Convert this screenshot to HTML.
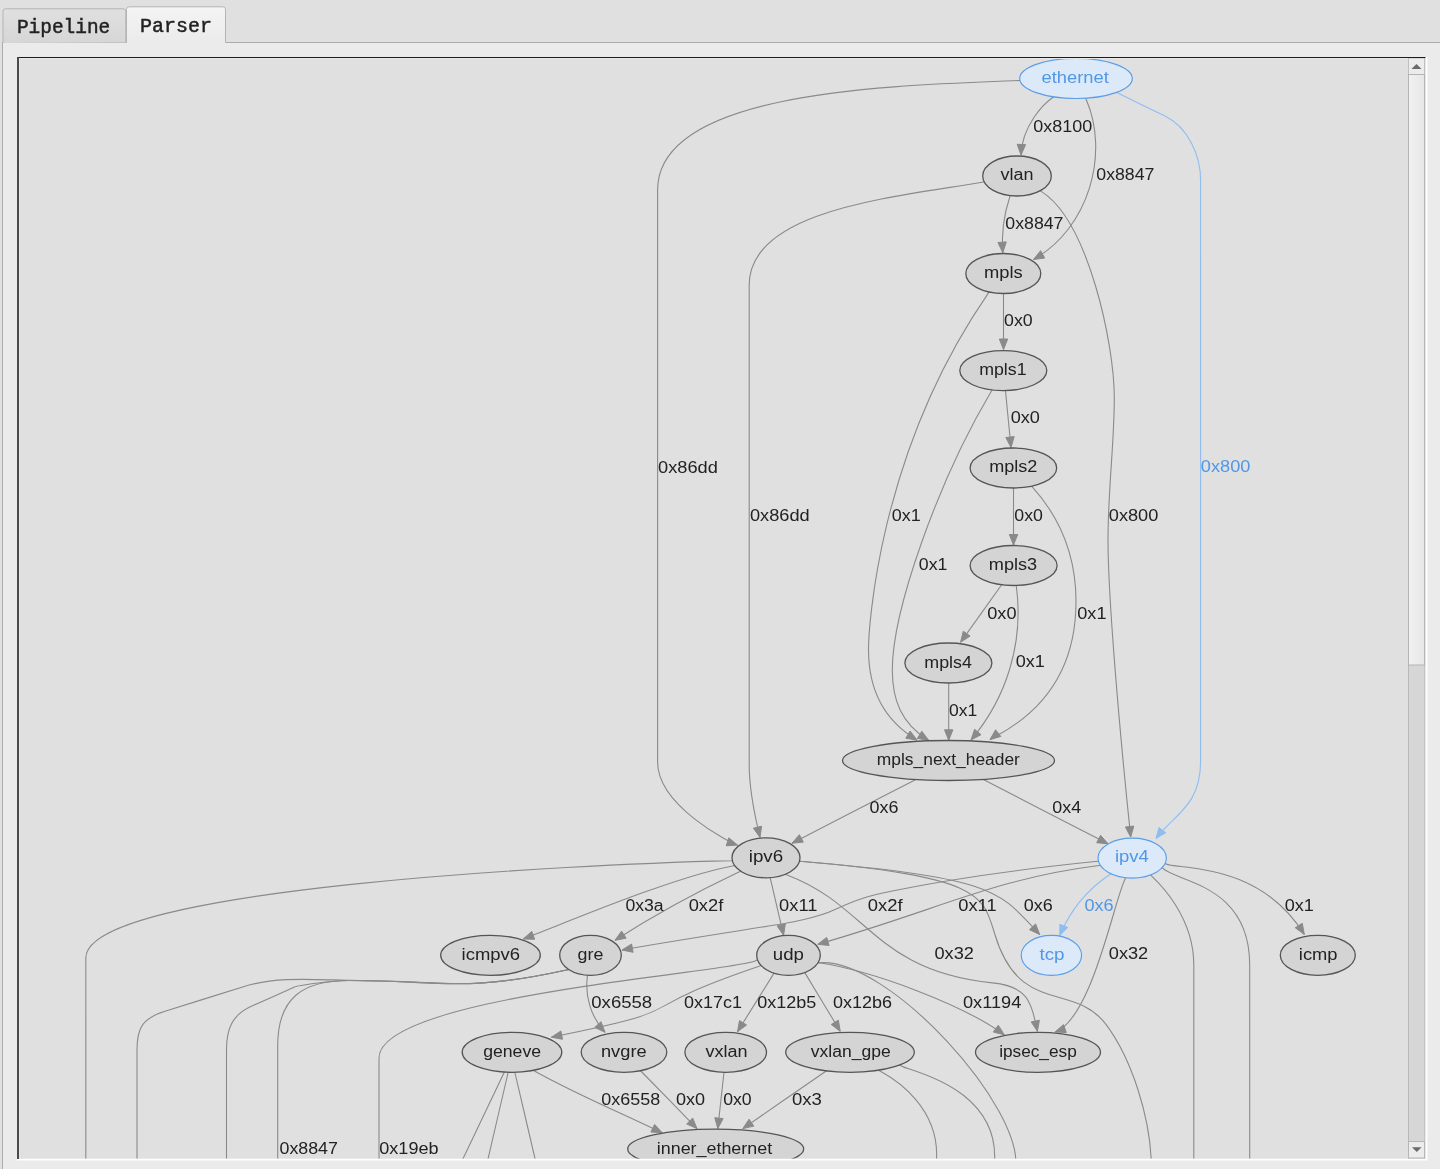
<!DOCTYPE html>
<html><head><meta charset="utf-8"><style>
html,body{margin:0;padding:0;width:1440px;height:1169px;overflow:hidden;background:#e0e0e0;}
svg{display:block;will-change:transform;}
</style></head><body>
<svg width="1440" height="1169" viewBox="0 0 1440 1169">
<defs>
<linearGradient id="tabInactive" x1="0" y1="0" x2="0" y2="1"><stop offset="0" stop-color="#e0e0e0"/><stop offset="1" stop-color="#d6d6d6"/></linearGradient>
<linearGradient id="tabActive" x1="0" y1="0" x2="0" y2="1"><stop offset="0" stop-color="#f4f4f4"/><stop offset="1" stop-color="#ebebeb"/></linearGradient>
<linearGradient id="thumb" x1="0" y1="0" x2="1" y2="0"><stop offset="0" stop-color="#f2f2f2"/><stop offset="1" stop-color="#e6e6e6"/></linearGradient>
<clipPath id="view"><rect x="19" y="58" width="1389" height="1100.6"/></clipPath>
</defs>
<rect x="0" y="0" width="1440" height="1169" fill="#e0e0e0"/>
<!-- pane -->
<rect x="2.5" y="42.5" width="1460" height="1140" fill="#ebebeb" stroke="#acacac" stroke-width="1"/>
<!-- inactive tab -->
<path d="M3,43 L3,11.3 Q3,8.8 5.5,8.8 L123.3,8.8 Q125.8,8.8 125.8,11.3 L125.8,42.5" fill="url(#tabInactive)" stroke="#b4b4b4" stroke-width="1"/>
<!-- active tab -->
<path d="M126.5,42.6 L126.5,9.5 Q126.5,6.8 129.2,6.8 L222.8,6.8 Q225.5,6.8 225.5,9.5 L225.5,42.6" fill="url(#tabActive)" stroke="#b4b4b4" stroke-width="1"/>
<rect x="127" y="40" width="98" height="5" fill="#ebebeb"/>
<text x="16.96" y="32.50" font-size="19.5" fill="#222222" textLength="93.32" lengthAdjust="spacingAndGlyphs" font-family='"Liberation Mono", monospace' stroke="#222222" stroke-width="0.45">Pipeline</text>
<text x="140.02" y="32.00" font-size="19.5" fill="#222222" textLength="71.98" lengthAdjust="spacingAndGlyphs" font-family='"Liberation Mono", monospace' stroke="#222222" stroke-width="0.45">Parser</text>
<!-- view frame -->
<rect x="18" y="57" width="1409" height="1102" fill="#e0e0e0"/>
<path d="M17,1159.6 L1426.6,1159.6 L1426.6,57" fill="none" stroke="#ffffff" stroke-width="1.6"/>
<g clip-path="url(#view)">
<path d="M1054.8,96.0 L1052.0,98.0 C1044.3,103.5 1022.2,125.0 1021.0,155.0" fill="none" stroke="#8a8a8a" stroke-width="1.1"/>
<polygon points="1017.2,144.3 1021.0,155.0 1025.6,144.7" fill="#8a8a8a" stroke="#8a8a8a" stroke-width="1"/>
<path d="M1085.1,96.8 L1086.0,99.0 C1109.9,153.7 1088.7,228.4 1033.5,259.5" fill="none" stroke="#8a8a8a" stroke-width="1.1"/>
<polygon points="1040.6,250.7 1033.5,259.5 1044.7,258.0" fill="#8a8a8a" stroke="#8a8a8a" stroke-width="1"/>
<path d="M1021.5,80.4 L1019.2,80.5 C886.5,85.8 657.6,91.2 657.6,190.0 C657.6,380.7 657.6,571.3 657.6,762.0 C657.6,806.3 731.0,843.0 737.5,845.1" fill="none" stroke="#8a8a8a" stroke-width="1.1"/>
<polygon points="726.2,845.8 737.5,845.1 728.8,837.8" fill="#8a8a8a" stroke="#8a8a8a" stroke-width="1"/>
<path d="M1115.1,91.8 L1119.3,93.8 C1134.5,101.2 1149.8,108.6 1165.0,116.0 C1189.0,127.7 1200.6,156.8 1200.6,180.0 C1200.6,373.7 1200.6,567.3 1200.6,761.0 C1200.6,805.9 1174.7,814.0 1156.0,838.5" fill="none" stroke="#8fbdf0" stroke-width="1.1"/>
<polygon points="1159.0,827.6 1156.0,838.5 1165.7,832.7" fill="#8fbdf0" stroke="#8fbdf0" stroke-width="1"/>
<path d="M1010.7,194.2 L1009.6,197.5 C1003.6,215.7 1001.5,234.5 1002.8,252.7" fill="none" stroke="#8a8a8a" stroke-width="1.1"/>
<polygon points="997.9,242.5 1002.8,252.7 1006.3,241.9" fill="#8a8a8a" stroke="#8a8a8a" stroke-width="1"/>
<path d="M985.7,181.6 L982.2,182.2 C897.8,196.8 749.2,209.1 749.2,285.0 C749.2,445.0 749.2,605.0 749.2,765.0 C749.2,784.8 754.4,814.4 760.0,837.4" fill="none" stroke="#8a8a8a" stroke-width="1.1"/>
<polygon points="753.4,828.2 760.0,837.4 761.6,826.2" fill="#8a8a8a" stroke="#8a8a8a" stroke-width="1"/>
<path d="M1039.0,189.9 L1041.6,191.6 C1088.2,221.2 1114.3,343.6 1114.3,398.0 C1114.3,443.3 1108.0,489.5 1108.0,540.0 C1108.0,598.4 1119.8,733.0 1130.7,837.0" fill="none" stroke="#8a8a8a" stroke-width="1.1"/>
<polygon points="1125.4,827.0 1130.7,837.0 1133.8,826.1" fill="#8a8a8a" stroke="#8a8a8a" stroke-width="1"/>
<path d="M1003.5,292.0 L1003.5,294.0 C1003.5,312.5 1003.5,331.0 1003.5,349.5" fill="none" stroke="#8a8a8a" stroke-width="1.1"/>
<polygon points="999.3,339.0 1003.5,349.5 1007.7,339.0" fill="#8a8a8a" stroke="#8a8a8a" stroke-width="1"/>
<path d="M990.0,290.8 L987.5,294.4 C877.1,455.2 868.5,631.2 868.5,649.5 C868.5,687.0 882.9,719.8 917.0,740.0" fill="none" stroke="#8a8a8a" stroke-width="1.1"/>
<polygon points="905.8,738.3 917.0,740.0 910.1,731.0" fill="#8a8a8a" stroke="#8a8a8a" stroke-width="1"/>
<path d="M1005.3,389.1 L1005.5,391.0 C1007.3,409.8 1009.2,428.7 1011.0,447.5" fill="none" stroke="#8a8a8a" stroke-width="1.1"/>
<polygon points="1005.8,437.5 1011.0,447.5 1014.2,436.6" fill="#8a8a8a" stroke="#8a8a8a" stroke-width="1"/>
<path d="M992.9,388.6 L991.6,390.8 C937.6,481.6 892.3,610.8 892.3,670.0 C892.3,699.5 901.1,723.6 928.6,740.2" fill="none" stroke="#8a8a8a" stroke-width="1.1"/>
<polygon points="917.4,738.4 928.6,740.2 921.8,731.2" fill="#8a8a8a" stroke="#8a8a8a" stroke-width="1"/>
<path d="M1013.5,486.5 L1013.5,489.0 C1013.5,507.7 1013.5,526.3 1013.5,545.0" fill="none" stroke="#8a8a8a" stroke-width="1.1"/>
<polygon points="1009.3,534.5 1013.5,545.0 1017.7,534.5" fill="#8a8a8a" stroke="#8a8a8a" stroke-width="1"/>
<path d="M1030.7,485.0 L1032.7,487.3 C1061.1,519.0 1076.0,557.1 1076.0,601.5 C1076.0,705.9 996.3,734.6 990.0,739.6" fill="none" stroke="#8a8a8a" stroke-width="1.1"/>
<polygon points="995.6,729.8 990.0,739.6 1000.8,736.4" fill="#8a8a8a" stroke="#8a8a8a" stroke-width="1"/>
<path d="M1002.5,583.5 L1000.4,586.5 C987.1,605.1 973.9,623.6 960.6,642.2" fill="none" stroke="#8a8a8a" stroke-width="1.1"/>
<polygon points="963.3,631.2 960.6,642.2 970.1,636.1" fill="#8a8a8a" stroke="#8a8a8a" stroke-width="1"/>
<path d="M1016.1,584.0 L1016.3,585.8 C1023.9,641.6 1007.2,697.2 971.0,740.0" fill="none" stroke="#8a8a8a" stroke-width="1.1"/>
<polygon points="974.6,729.3 971.0,740.0 981.0,734.7" fill="#8a8a8a" stroke="#8a8a8a" stroke-width="1"/>
<path d="M948.7,681.5 L948.7,684.0 C948.7,702.8 948.7,721.5 948.7,740.3" fill="none" stroke="#8a8a8a" stroke-width="1.1"/>
<polygon points="944.5,729.8 948.7,740.3 952.9,729.8" fill="#8a8a8a" stroke="#8a8a8a" stroke-width="1"/>
<path d="M917.2,778.8 L913.0,781.0 C872.7,801.7 832.3,822.5 792.0,843.2" fill="none" stroke="#8a8a8a" stroke-width="1.1"/>
<polygon points="799.4,834.7 792.0,843.2 803.3,842.1" fill="#8a8a8a" stroke="#8a8a8a" stroke-width="1"/>
<path d="M981.7,778.7 L985.3,780.6 C1026.2,801.7 1067.1,822.7 1108.0,843.8" fill="none" stroke="#8a8a8a" stroke-width="1.1"/>
<polygon points="1096.7,842.7 1108.0,843.8 1100.6,835.3" fill="#8a8a8a" stroke="#8a8a8a" stroke-width="1"/>
<path d="M733.8,860.5 L731.7,860.6 C578.9,864.3 85.8,887.8 85.8,958.0 C85.8,1028.7 85.8,1099.3 85.8,1170.0" fill="none" stroke="#8a8a8a" stroke-width="1.1"/>
<path d="M736.1,865.3 L728.9,866.7 C665.6,879.4 551.8,928.8 523.3,938.9" fill="none" stroke="#8a8a8a" stroke-width="1.1"/>
<polygon points="531.8,931.4 523.3,938.9 534.6,939.3" fill="#8a8a8a" stroke="#8a8a8a" stroke-width="1"/>
<path d="M742.2,870.6 L735.8,873.6 C693.1,893.8 652.8,916.2 615.0,940.3" fill="none" stroke="#8a8a8a" stroke-width="1.1"/>
<polygon points="621.6,931.1 615.0,940.3 626.1,938.2" fill="#8a8a8a" stroke="#8a8a8a" stroke-width="1"/>
<path d="M769.8,876.2 L770.4,878.6 C774.8,897.5 779.2,916.4 783.6,935.3" fill="none" stroke="#8a8a8a" stroke-width="1.1"/>
<polygon points="777.1,926.0 783.6,935.3 785.3,924.1" fill="#8a8a8a" stroke="#8a8a8a" stroke-width="1"/>
<path d="M798.0,861.1 L800.0,861.3 C996.7,878.0 998.5,890.1 1039.7,934.5" fill="none" stroke="#8a8a8a" stroke-width="1.1"/>
<polygon points="1029.5,929.7 1039.7,934.5 1035.6,923.9" fill="#8a8a8a" stroke="#8a8a8a" stroke-width="1"/>
<path d="M798.0,861.1 L800.0,861.3 C982.7,876.8 983.0,894.9 994.9,934.5 C1019.4,1016.1 1074.1,981.9 1105.8,1024.2 C1130.8,1057.5 1151.4,1117.2 1151.5,1170.0" fill="none" stroke="#8a8a8a" stroke-width="1.1"/>
<path d="M783.9,873.7 L788.3,875.4 C868.1,905.7 875.1,971.2 992.5,982.9 C1026.4,986.3 1030.9,999.5 1037.4,1031.3" fill="none" stroke="#8a8a8a" stroke-width="1.1"/>
<polygon points="1031.2,1021.9 1037.4,1031.3 1039.4,1020.2" fill="#8a8a8a" stroke="#8a8a8a" stroke-width="1"/>
<path d="M1099.9,861.1 L1097.6,861.3 C1028.3,868.3 962.5,876.5 891.1,891.2 C869.0,895.8 856.7,899.2 835.6,909.3 C819.4,917.0 808.7,918.1 793.9,921.8 C785.4,923.9 681.0,939.3 622.0,950.0" fill="none" stroke="#8a8a8a" stroke-width="1.1"/>
<polygon points="631.6,944.0 622.0,950.0 633.1,952.3" fill="#8a8a8a" stroke="#8a8a8a" stroke-width="1"/>
<path d="M1101.8,865.2 L1099.0,865.5 C994.7,878.5 939.5,909.5 817.8,944.3" fill="none" stroke="#8a8a8a" stroke-width="1.1"/>
<polygon points="826.7,937.4 817.8,944.3 829.1,945.5" fill="#8a8a8a" stroke="#8a8a8a" stroke-width="1"/>
<path d="M1112.2,873.0 L1109.9,874.5 C1088.0,889.0 1070.3,910.1 1059.8,935.6" fill="none" stroke="#8fbdf0" stroke-width="1.1"/>
<polygon points="1059.9,924.3 1059.8,935.6 1067.7,927.5" fill="#8fbdf0" stroke="#8fbdf0" stroke-width="1"/>
<path d="M1126.5,876.4 L1125.6,878.1 C1114.3,898.2 1092.4,1018.8 1055.0,1032.0" fill="none" stroke="#8a8a8a" stroke-width="1.1"/>
<polygon points="1063.5,1024.6 1055.0,1032.0 1066.3,1032.5" fill="#8a8a8a" stroke="#8a8a8a" stroke-width="1"/>
<path d="M1163.8,862.7 L1166.1,863.9 C1177.6,869.7 1258.8,861.1 1304.3,934.4" fill="none" stroke="#8a8a8a" stroke-width="1.1"/>
<polygon points="1295.2,927.7 1304.3,934.4 1302.3,923.3" fill="#8a8a8a" stroke="#8a8a8a" stroke-width="1"/>
<path d="M1149.5,873.9 L1151.5,875.9 C1156.3,880.6 1193.8,914.4 1193.8,965.0 C1193.8,1033.3 1193.8,1101.7 1193.8,1170.0" fill="none" stroke="#8a8a8a" stroke-width="1.1"/>
<path d="M1161.1,866.7 L1162.9,868.4 C1177.7,882.3 1249.7,884.7 1249.7,965.0 C1249.7,1033.3 1249.7,1101.7 1249.7,1170.0" fill="none" stroke="#8a8a8a" stroke-width="1.1"/>
<path d="M570.2,969.1 L566.4,970.0 C465.1,992.5 443.8,980.5 360.0,980.5 C320.8,980.5 280.0,975.1 242.6,986.9 C216.7,995.0 190.9,1003.2 165.0,1011.3 C142.6,1018.4 137.0,1027.4 137.0,1050.0 C137.0,1090.0 137.0,1130.0 137.0,1170.0" fill="none" stroke="#8a8a8a" stroke-width="1.1"/>
<path d="M570.2,969.2 L566.4,970.0 C462.6,992.8 440.2,980.5 348.9,980.5 C330.5,980.5 297.3,985.7 294.5,987.0 C280.1,993.5 265.7,999.8 251.3,1006.3 C231.7,1015.1 226.5,1029.7 226.5,1050.0 C226.5,1090.0 226.5,1130.0 226.5,1170.0" fill="none" stroke="#8a8a8a" stroke-width="1.1"/>
<path d="M570.2,969.2 L566.4,970.0 C462.6,992.8 440.2,980.5 348.9,980.5 C303.2,980.5 277.7,997.3 277.7,1046.0 C277.7,1087.3 277.7,1128.7 277.7,1170.0" fill="none" stroke="#8a8a8a" stroke-width="1.1"/>
<path d="M587.7,973.7 L587.5,975.4 C584.4,996.6 591.3,1017.3 605.0,1032.3" fill="none" stroke="#8a8a8a" stroke-width="1.1"/>
<polygon points="594.8,1027.4 605.0,1032.3 601.0,1021.7" fill="#8a8a8a" stroke="#8a8a8a" stroke-width="1"/>
<path d="M758.9,959.2 L755.6,960.8 C731.1,972.8 379.0,995.7 379.0,1058.0 C379.0,1095.3 379.0,1132.7 379.0,1170.0" fill="none" stroke="#8a8a8a" stroke-width="1.1"/>
<path d="M762.5,965.0 L758.3,966.4 C615.8,1015.1 707.3,1006.1 551.4,1037.2" fill="none" stroke="#8a8a8a" stroke-width="1.1"/>
<polygon points="560.9,1031.0 551.4,1037.2 562.5,1039.3" fill="#8a8a8a" stroke="#8a8a8a" stroke-width="1"/>
<path d="M774.9,971.8 L772.2,976.1 C760.6,994.6 749.1,1013.2 737.5,1031.7" fill="none" stroke="#8a8a8a" stroke-width="1.1"/>
<polygon points="739.5,1020.6 737.5,1031.7 746.6,1025.0" fill="#8a8a8a" stroke="#8a8a8a" stroke-width="1"/>
<path d="M804.0,971.2 L806.0,974.6 C817.4,993.5 828.8,1012.4 840.2,1031.3" fill="none" stroke="#8a8a8a" stroke-width="1.1"/>
<polygon points="831.2,1024.5 840.2,1031.3 838.4,1020.1" fill="#8a8a8a" stroke="#8a8a8a" stroke-width="1"/>
<path d="M816.6,962.4 L819.0,962.8 C874.0,971.2 963.0,1004.7 1004.3,1034.8" fill="none" stroke="#8a8a8a" stroke-width="1.1"/>
<polygon points="993.3,1032.0 1004.3,1034.8 998.3,1025.2" fill="#8a8a8a" stroke="#8a8a8a" stroke-width="1"/>
<path d="M816.4,963.0 L819.0,962.8 C887.4,956.3 1026.1,1109.0 1015.3,1170.0" fill="none" stroke="#8a8a8a" stroke-width="1.1"/>
<path d="M532.1,1069.6 L535.8,1071.7 C579.3,1095.8 618.6,1111.6 662.2,1132.8" fill="none" stroke="#8a8a8a" stroke-width="1.1"/>
<polygon points="650.9,1132.0 662.2,1132.8 654.6,1124.4" fill="#8a8a8a" stroke="#8a8a8a" stroke-width="1"/>
<path d="M505.0,1070.7 L503.9,1073.0 C489.3,1103.7 474.6,1134.3 460.0,1165.0" fill="none" stroke="#8a8a8a" stroke-width="1.1"/>
<path d="M508.5,1070.8 L508.0,1073.0 C500.9,1103.7 493.7,1134.3 486.6,1165.0" fill="none" stroke="#8a8a8a" stroke-width="1.1"/>
<path d="M514.5,1070.8 L515.0,1073.0 C522.2,1103.7 529.3,1134.3 536.5,1165.0" fill="none" stroke="#8a8a8a" stroke-width="1.1"/>
<path d="M639.5,1069.7 L642.8,1073.0 C660.9,1091.5 678.9,1110.1 697.0,1128.6" fill="none" stroke="#8a8a8a" stroke-width="1.1"/>
<polygon points="686.7,1124.0 697.0,1128.6 692.7,1118.1" fill="#8a8a8a" stroke="#8a8a8a" stroke-width="1"/>
<path d="M724.1,1070.8 L723.9,1073.0 C721.9,1091.5 719.8,1110.1 717.8,1128.6" fill="none" stroke="#8a8a8a" stroke-width="1.1"/>
<polygon points="714.8,1117.7 717.8,1128.6 723.1,1118.6" fill="#8a8a8a" stroke="#8a8a8a" stroke-width="1"/>
<path d="M827.6,1070.0 L823.3,1073.0 C796.5,1091.5 769.6,1110.1 742.8,1128.6" fill="none" stroke="#8a8a8a" stroke-width="1.1"/>
<polygon points="749.1,1119.2 742.8,1128.6 753.8,1126.1" fill="#8a8a8a" stroke="#8a8a8a" stroke-width="1"/>
<path d="M877.2,1069.5 L880.7,1071.5 C886.0,1074.5 946.2,1105.6 935.3,1170.0" fill="none" stroke="#8a8a8a" stroke-width="1.1"/>
<path d="M898.7,1064.1 L901.8,1066.2 C907.5,1070.1 1005.5,1088.0 993.7,1170.0" fill="none" stroke="#8a8a8a" stroke-width="1.1"/>
<ellipse cx="1076" cy="78.5" rx="56.3" ry="20" fill="#dbe9f9" stroke="#5c9de8" stroke-width="1.15"/>
<text x="1041.52" y="83.00" font-size="16.0" fill="#5097e6" textLength="67.21" lengthAdjust="spacingAndGlyphs" font-family='"Liberation Sans", sans-serif'>ethernet</text>
<ellipse cx="1017" cy="176" rx="34.3" ry="20" fill="#d4d4d4" stroke="#555555" stroke-width="1.3"/>
<text x="1000.44" y="180.30" font-size="16.0" fill="#222222" textLength="32.93" lengthAdjust="spacingAndGlyphs" font-family='"Liberation Sans", sans-serif'>vlan</text>
<ellipse cx="1003.3" cy="273.5" rx="37.5" ry="20" fill="#d4d4d4" stroke="#555555" stroke-width="1.3"/>
<text x="983.98" y="278.00" font-size="16.0" fill="#222222" textLength="38.68" lengthAdjust="spacingAndGlyphs" font-family='"Liberation Sans", sans-serif'>mpls</text>
<ellipse cx="1003.3" cy="370.6" rx="43.5" ry="20" fill="#d4d4d4" stroke="#555555" stroke-width="1.3"/>
<text x="979.22" y="375.00" font-size="16.0" fill="#222222" textLength="47.35" lengthAdjust="spacingAndGlyphs" font-family='"Liberation Sans", sans-serif'>mpls1</text>
<ellipse cx="1013.4" cy="468" rx="43.3" ry="20" fill="#d4d4d4" stroke="#555555" stroke-width="1.3"/>
<text x="989.20" y="472.40" font-size="16.0" fill="#222222" textLength="48.10" lengthAdjust="spacingAndGlyphs" font-family='"Liberation Sans", sans-serif'>mpls2</text>
<ellipse cx="1013.6" cy="565.5" rx="43.5" ry="20" fill="#d4d4d4" stroke="#555555" stroke-width="1.3"/>
<text x="988.80" y="569.90" font-size="16.0" fill="#222222" textLength="48.30" lengthAdjust="spacingAndGlyphs" font-family='"Liberation Sans", sans-serif'>mpls3</text>
<ellipse cx="948.4" cy="663" rx="43.5" ry="20" fill="#d4d4d4" stroke="#555555" stroke-width="1.3"/>
<text x="924.31" y="667.50" font-size="16.0" fill="#222222" textLength="47.61" lengthAdjust="spacingAndGlyphs" font-family='"Liberation Sans", sans-serif'>mpls4</text>
<ellipse cx="948.5" cy="760.5" rx="106" ry="20" fill="#d4d4d4" stroke="#555555" stroke-width="1.3"/>
<text x="876.85" y="764.60" font-size="16.0" fill="#222222" textLength="143.04" lengthAdjust="spacingAndGlyphs" font-family='"Liberation Sans", sans-serif'>mpls_next_header</text>
<ellipse cx="766" cy="857.8" rx="34" ry="20" fill="#d4d4d4" stroke="#555555" stroke-width="1.3"/>
<text x="748.75" y="862.00" font-size="16.0" fill="#222222" textLength="34.38" lengthAdjust="spacingAndGlyphs" font-family='"Liberation Sans", sans-serif'>ipv6</text>
<ellipse cx="1132.2" cy="858.1" rx="34.2" ry="20" fill="#dbe9f9" stroke="#5c9de8" stroke-width="1.15"/>
<text x="1114.96" y="862.00" font-size="16.0" fill="#5097e6" textLength="33.88" lengthAdjust="spacingAndGlyphs" font-family='"Liberation Sans", sans-serif'>ipv4</text>
<ellipse cx="490.5" cy="955.3" rx="49.8" ry="20" fill="#d4d4d4" stroke="#555555" stroke-width="1.3"/>
<text x="461.57" y="959.50" font-size="16.0" fill="#222222" textLength="58.45" lengthAdjust="spacingAndGlyphs" font-family='"Liberation Sans", sans-serif'>icmpv6</text>
<ellipse cx="590.5" cy="955.3" rx="30.8" ry="20" fill="#d4d4d4" stroke="#555555" stroke-width="1.3"/>
<text x="577.55" y="959.50" font-size="16.0" fill="#222222" textLength="25.74" lengthAdjust="spacingAndGlyphs" font-family='"Liberation Sans", sans-serif'>gre</text>
<ellipse cx="788.5" cy="955.3" rx="31.8" ry="20" fill="#d4d4d4" stroke="#555555" stroke-width="1.3"/>
<text x="772.89" y="959.50" font-size="16.0" fill="#222222" textLength="31.09" lengthAdjust="spacingAndGlyphs" font-family='"Liberation Sans", sans-serif'>udp</text>
<ellipse cx="1051.4" cy="955.3" rx="30.2" ry="20" fill="#dbe9f9" stroke="#5c9de8" stroke-width="1.15"/>
<text x="1039.42" y="959.50" font-size="16.0" fill="#5097e6" textLength="25.07" lengthAdjust="spacingAndGlyphs" font-family='"Liberation Sans", sans-serif'>tcp</text>
<ellipse cx="1317.8" cy="955.3" rx="37.5" ry="20" fill="#d4d4d4" stroke="#555555" stroke-width="1.3"/>
<text x="1298.87" y="959.50" font-size="16.0" fill="#222222" textLength="38.70" lengthAdjust="spacingAndGlyphs" font-family='"Liberation Sans", sans-serif'>icmp</text>
<ellipse cx="512" cy="1052.3" rx="49.8" ry="20" fill="#d4d4d4" stroke="#555555" stroke-width="1.3"/>
<text x="483.16" y="1057.00" font-size="16.0" fill="#222222" textLength="57.93" lengthAdjust="spacingAndGlyphs" font-family='"Liberation Sans", sans-serif'>geneve</text>
<ellipse cx="624" cy="1052.3" rx="42.8" ry="20" fill="#d4d4d4" stroke="#555555" stroke-width="1.3"/>
<text x="600.99" y="1057.00" font-size="16.0" fill="#222222" textLength="45.62" lengthAdjust="spacingAndGlyphs" font-family='"Liberation Sans", sans-serif'>nvgre</text>
<ellipse cx="725.7" cy="1052.3" rx="40.8" ry="20" fill="#d4d4d4" stroke="#555555" stroke-width="1.3"/>
<text x="705.54" y="1057.00" font-size="16.0" fill="#222222" textLength="42.03" lengthAdjust="spacingAndGlyphs" font-family='"Liberation Sans", sans-serif'>vxlan</text>
<ellipse cx="850" cy="1052.3" rx="64.3" ry="20" fill="#d4d4d4" stroke="#555555" stroke-width="1.3"/>
<text x="810.74" y="1057.00" font-size="16.0" fill="#222222" textLength="79.94" lengthAdjust="spacingAndGlyphs" font-family='"Liberation Sans", sans-serif'>vxlan_gpe</text>
<ellipse cx="1038" cy="1052.3" rx="62.5" ry="20" fill="#d4d4d4" stroke="#555555" stroke-width="1.3"/>
<text x="999.15" y="1057.00" font-size="16.0" fill="#222222" textLength="77.58" lengthAdjust="spacingAndGlyphs" font-family='"Liberation Sans", sans-serif'>ipsec_esp</text>
<ellipse cx="715.7" cy="1149.1" rx="88" ry="20" fill="#d4d4d4" stroke="#555555" stroke-width="1.3"/>
<text x="656.80" y="1153.60" font-size="16.0" fill="#222222" textLength="115.33" lengthAdjust="spacingAndGlyphs" font-family='"Liberation Sans", sans-serif'>inner_ethernet</text>
<text x="1033.30" y="131.70" font-size="16.0" fill="#222222" textLength="58.90" lengthAdjust="spacingAndGlyphs" font-family='"Liberation Sans", sans-serif'>0x8100</text>
<text x="1096.31" y="180.40" font-size="16.0" fill="#222222" textLength="58.08" lengthAdjust="spacingAndGlyphs" font-family='"Liberation Sans", sans-serif'>0x8847</text>
<text x="1005.31" y="228.50" font-size="16.0" fill="#222222" textLength="58.18" lengthAdjust="spacingAndGlyphs" font-family='"Liberation Sans", sans-serif'>0x8847</text>
<text x="1004.11" y="326.00" font-size="16.0" fill="#222222" textLength="28.59" lengthAdjust="spacingAndGlyphs" font-family='"Liberation Sans", sans-serif'>0x0</text>
<text x="1010.69" y="423.30" font-size="16.0" fill="#222222" textLength="29.22" lengthAdjust="spacingAndGlyphs" font-family='"Liberation Sans", sans-serif'>0x0</text>
<text x="658.09" y="472.60" font-size="16.0" fill="#222222" textLength="59.79" lengthAdjust="spacingAndGlyphs" font-family='"Liberation Sans", sans-serif'>0x86dd</text>
<text x="1200.89" y="472.40" font-size="16.0" fill="#5097e6" textLength="49.52" lengthAdjust="spacingAndGlyphs" font-family='"Liberation Sans", sans-serif'>0x800</text>
<text x="1014.31" y="520.80" font-size="16.0" fill="#222222" textLength="28.59" lengthAdjust="spacingAndGlyphs" font-family='"Liberation Sans", sans-serif'>0x0</text>
<text x="891.80" y="520.80" font-size="16.0" fill="#222222" textLength="28.98" lengthAdjust="spacingAndGlyphs" font-family='"Liberation Sans", sans-serif'>0x1</text>
<text x="1108.79" y="520.80" font-size="16.0" fill="#222222" textLength="49.52" lengthAdjust="spacingAndGlyphs" font-family='"Liberation Sans", sans-serif'>0x800</text>
<text x="749.99" y="521.00" font-size="16.0" fill="#222222" textLength="59.68" lengthAdjust="spacingAndGlyphs" font-family='"Liberation Sans", sans-serif'>0x86dd</text>
<text x="918.81" y="569.80" font-size="16.0" fill="#222222" textLength="28.56" lengthAdjust="spacingAndGlyphs" font-family='"Liberation Sans", sans-serif'>0x1</text>
<text x="987.29" y="618.60" font-size="16.0" fill="#222222" textLength="29.22" lengthAdjust="spacingAndGlyphs" font-family='"Liberation Sans", sans-serif'>0x0</text>
<text x="1077.29" y="618.60" font-size="16.0" fill="#222222" textLength="29.19" lengthAdjust="spacingAndGlyphs" font-family='"Liberation Sans", sans-serif'>0x1</text>
<text x="1015.80" y="666.80" font-size="16.0" fill="#222222" textLength="29.09" lengthAdjust="spacingAndGlyphs" font-family='"Liberation Sans", sans-serif'>0x1</text>
<text x="949.12" y="715.60" font-size="16.0" fill="#222222" textLength="28.24" lengthAdjust="spacingAndGlyphs" font-family='"Liberation Sans", sans-serif'>0x1</text>
<text x="869.50" y="812.80" font-size="16.0" fill="#222222" textLength="28.89" lengthAdjust="spacingAndGlyphs" font-family='"Liberation Sans", sans-serif'>0x6</text>
<text x="1052.30" y="813.10" font-size="16.0" fill="#222222" textLength="28.82" lengthAdjust="spacingAndGlyphs" font-family='"Liberation Sans", sans-serif'>0x4</text>
<text x="625.41" y="910.60" font-size="16.0" fill="#222222" textLength="38.19" lengthAdjust="spacingAndGlyphs" font-family='"Liberation Sans", sans-serif'>0x3a</text>
<text x="688.69" y="910.60" font-size="16.0" fill="#222222" textLength="34.59" lengthAdjust="spacingAndGlyphs" font-family='"Liberation Sans", sans-serif'>0x2f</text>
<text x="779.11" y="910.60" font-size="16.0" fill="#222222" textLength="38.25" lengthAdjust="spacingAndGlyphs" font-family='"Liberation Sans", sans-serif'>0x11</text>
<text x="867.78" y="910.60" font-size="16.0" fill="#222222" textLength="34.79" lengthAdjust="spacingAndGlyphs" font-family='"Liberation Sans", sans-serif'>0x2f</text>
<text x="958.31" y="910.60" font-size="16.0" fill="#222222" textLength="38.25" lengthAdjust="spacingAndGlyphs" font-family='"Liberation Sans", sans-serif'>0x11</text>
<text x="1023.80" y="910.60" font-size="16.0" fill="#222222" textLength="28.99" lengthAdjust="spacingAndGlyphs" font-family='"Liberation Sans", sans-serif'>0x6</text>
<text x="1084.49" y="910.60" font-size="16.0" fill="#5097e6" textLength="29.20" lengthAdjust="spacingAndGlyphs" font-family='"Liberation Sans", sans-serif'>0x6</text>
<text x="1284.80" y="910.70" font-size="16.0" fill="#222222" textLength="29.09" lengthAdjust="spacingAndGlyphs" font-family='"Liberation Sans", sans-serif'>0x1</text>
<text x="934.49" y="959.30" font-size="16.0" fill="#222222" textLength="39.42" lengthAdjust="spacingAndGlyphs" font-family='"Liberation Sans", sans-serif'>0x32</text>
<text x="1108.79" y="959.30" font-size="16.0" fill="#222222" textLength="39.42" lengthAdjust="spacingAndGlyphs" font-family='"Liberation Sans", sans-serif'>0x32</text>
<text x="591.27" y="1008.00" font-size="16.0" fill="#222222" textLength="60.93" lengthAdjust="spacingAndGlyphs" font-family='"Liberation Sans", sans-serif'>0x6558</text>
<text x="684.00" y="1008.00" font-size="16.0" fill="#222222" textLength="57.88" lengthAdjust="spacingAndGlyphs" font-family='"Liberation Sans", sans-serif'>0x17c1</text>
<text x="757.30" y="1008.00" font-size="16.0" fill="#222222" textLength="59.06" lengthAdjust="spacingAndGlyphs" font-family='"Liberation Sans", sans-serif'>0x12b5</text>
<text x="833.10" y="1008.00" font-size="16.0" fill="#222222" textLength="58.99" lengthAdjust="spacingAndGlyphs" font-family='"Liberation Sans", sans-serif'>0x12b6</text>
<text x="963.01" y="1008.00" font-size="16.0" fill="#222222" textLength="58.32" lengthAdjust="spacingAndGlyphs" font-family='"Liberation Sans", sans-serif'>0x1194</text>
<text x="601.30" y="1105.00" font-size="16.0" fill="#222222" textLength="58.88" lengthAdjust="spacingAndGlyphs" font-family='"Liberation Sans", sans-serif'>0x6558</text>
<text x="675.99" y="1105.00" font-size="16.0" fill="#222222" textLength="29.11" lengthAdjust="spacingAndGlyphs" font-family='"Liberation Sans", sans-serif'>0x0</text>
<text x="723.21" y="1105.00" font-size="16.0" fill="#222222" textLength="28.48" lengthAdjust="spacingAndGlyphs" font-family='"Liberation Sans", sans-serif'>0x0</text>
<text x="792.08" y="1105.00" font-size="16.0" fill="#222222" textLength="29.84" lengthAdjust="spacingAndGlyphs" font-family='"Liberation Sans", sans-serif'>0x3</text>
<text x="279.50" y="1154.00" font-size="16.0" fill="#222222" textLength="58.39" lengthAdjust="spacingAndGlyphs" font-family='"Liberation Sans", sans-serif'>0x8847</text>
<text x="379.29" y="1154.00" font-size="16.0" fill="#222222" textLength="59.26" lengthAdjust="spacingAndGlyphs" font-family='"Liberation Sans", sans-serif'>0x19eb</text>
</g>
<!-- scrollbar -->
<rect x="1408" y="58" width="17" height="1100.5" fill="#d6d6d6"/>
<line x1="1408.5" y1="58" x2="1408.5" y2="1158.5" stroke="#b8b8b8" stroke-width="1"/>
<line x1="1424.5" y1="58" x2="1424.5" y2="1158.5" stroke="#c4c4c4" stroke-width="1"/>
<rect x="1408.5" y="58" width="16" height="16.5" fill="#ececec" stroke="#c0c0c0" stroke-width="1"/>
<polygon points="1411.5,69 1416.5,64 1421.5,69" fill="#6a6a6a"/>
<rect x="1408.5" y="74.5" width="16" height="590.5" fill="url(#thumb)" stroke="#b4b4b4" stroke-width="1"/>
<rect x="1408.5" y="1141.5" width="16" height="16.5" fill="#ececec" stroke="#b6b6b6" stroke-width="1"/>
<polygon points="1412,1147.3 1416.8,1152 1421.6,1147.3" fill="#6a6a6a"/>
<rect x="19" y="58" width="1389" height="1" fill="#e8e8e8"/><rect x="19" y="58" width="1" height="1101" fill="#e6e6e6"/>
<rect x="17" y="57" width="1408.5" height="1" fill="#1c1c1c"/><rect x="17" y="57" width="2" height="1102" fill="#4a4a4a"/>
</svg>
</body></html>
